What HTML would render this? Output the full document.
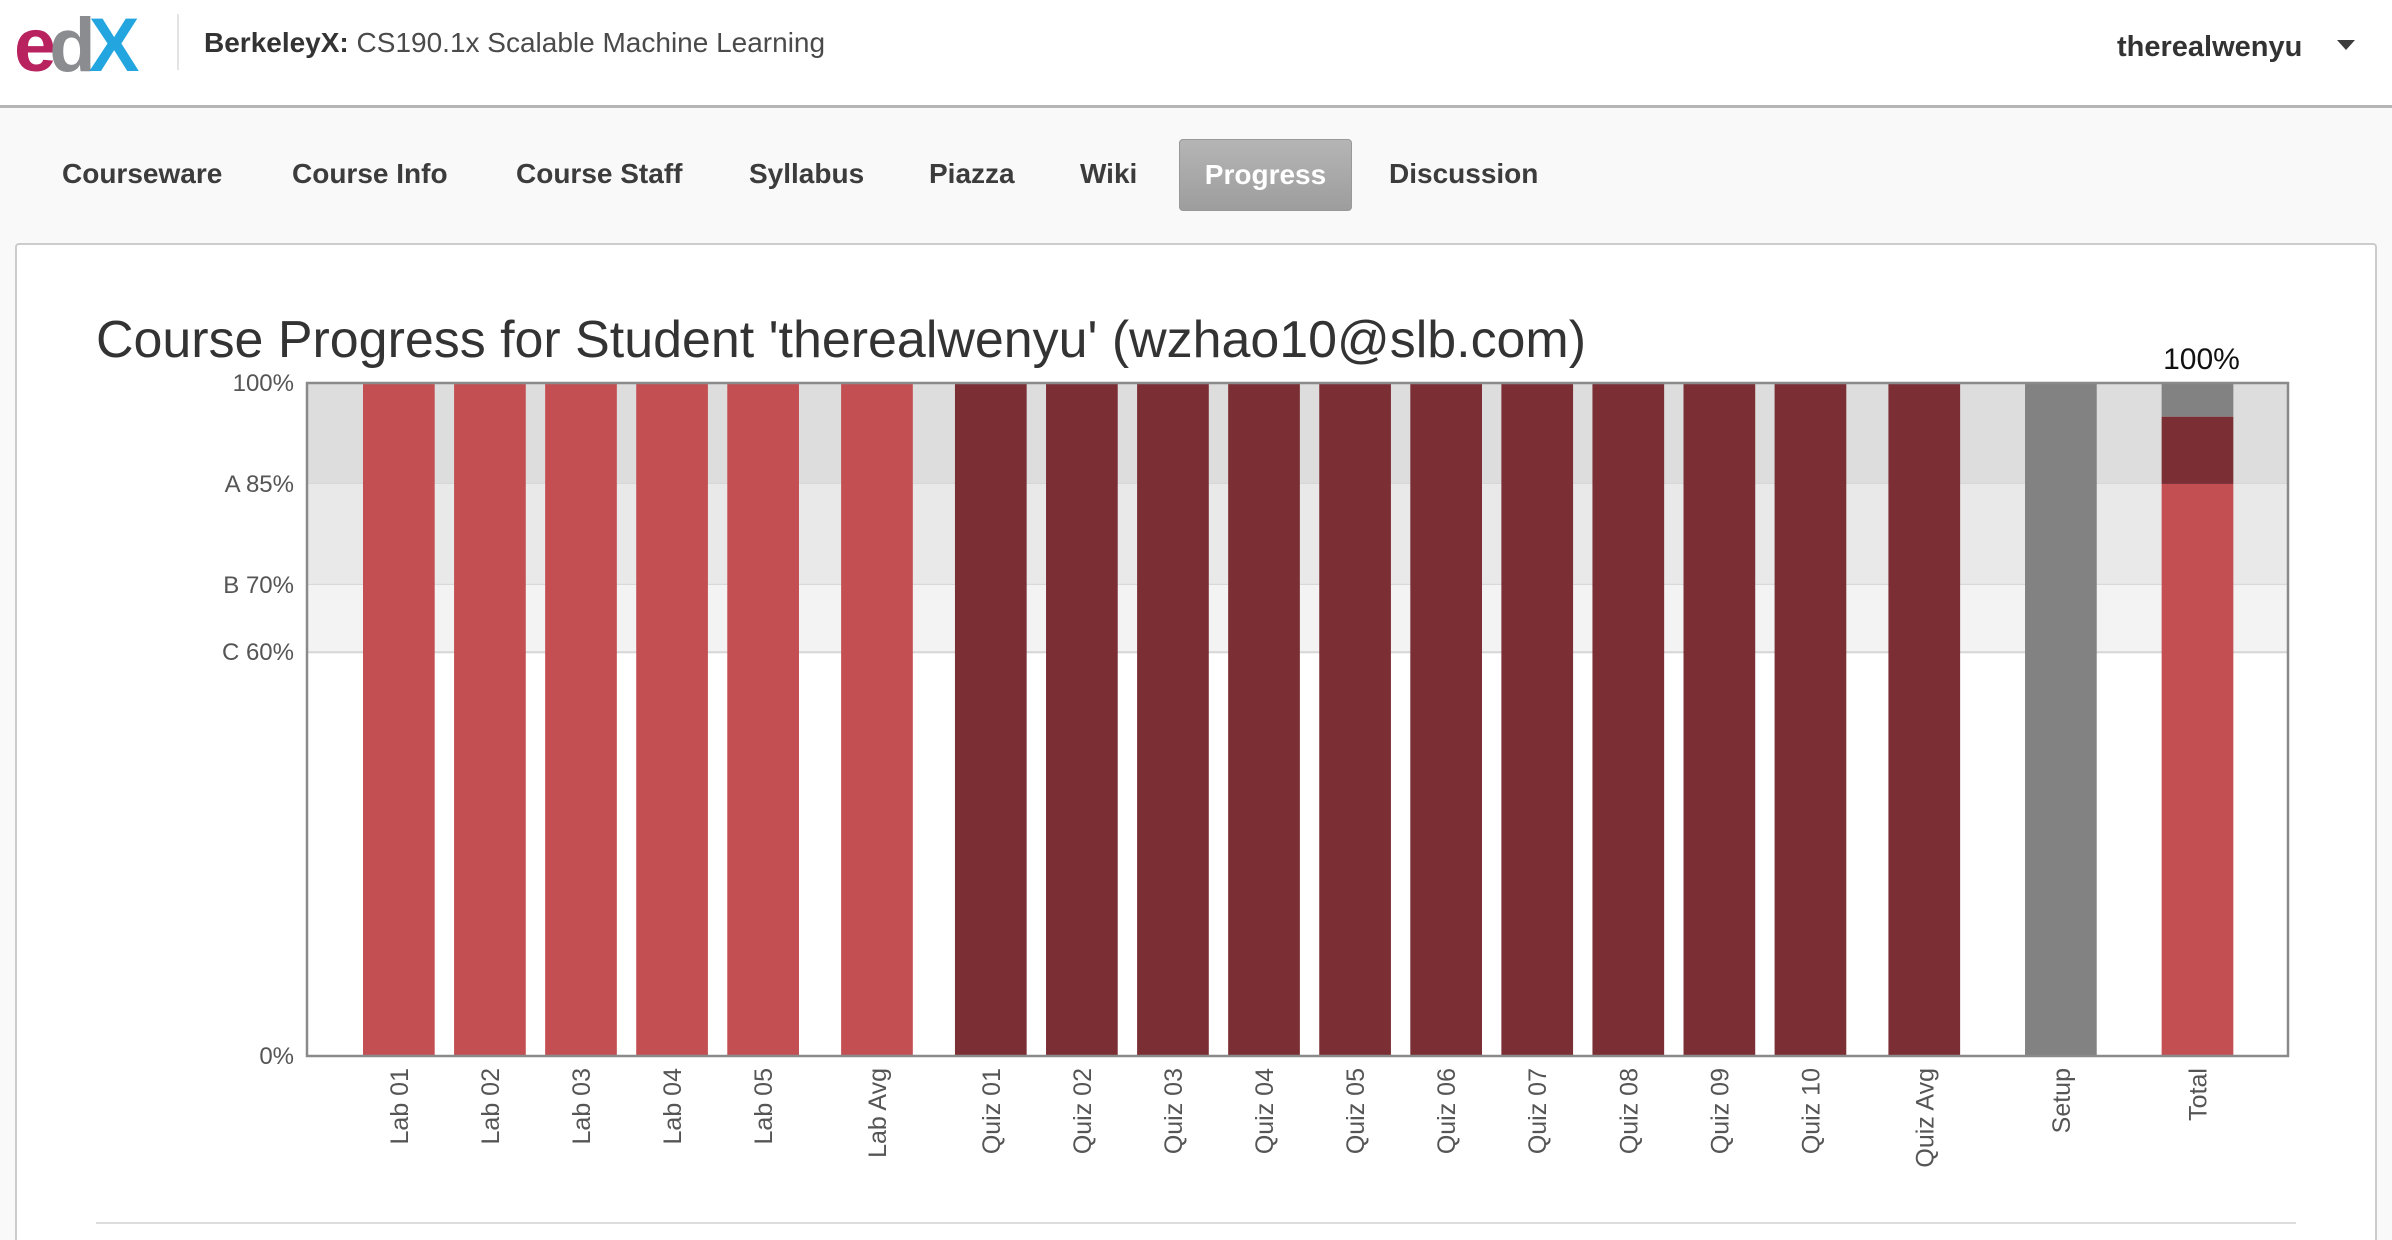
<!DOCTYPE html>
<html style="overflow:hidden;height:1240px"><head><meta charset="utf-8">
<style>
body{margin:0;width:2392px;height:1240px;position:relative;overflow:hidden;background:#fff;font-family:"Liberation Sans",sans-serif;}
.abs{position:absolute;}
.nav{position:absolute;top:158px;font-size:28px;font-weight:bold;color:#3c3c3c;white-space:nowrap;}
</style></head><body>
<div class="abs" style="left:0;top:0;width:2392px;height:108px;border-bottom:3px solid #b5b5b5;box-sizing:border-box;background:#fff"></div>
<div class="abs" style="left:14px;top:8px;font-size:76px;font-weight:bold;letter-spacing:-7px;line-height:76px">
<span style="color:#b8225f">e</span><span style="color:#8a8c8f">d</span><span style="color:#23a5e0">X</span></div>
<div class="abs" style="left:177px;top:14px;width:2px;height:56px;background:#e4e4e4"></div>
<div class="abs" style="left:204px;top:27px;font-size:28px;color:#4a4a4a;white-space:nowrap"><b style="color:#333">BerkeleyX:</b> CS190.1x Scalable Machine Learning</div>
<div class="abs" style="left:2117px;top:31px;font-size:29px;font-weight:bold;color:#333">therealwenyu</div>
<div class="abs" style="left:2337px;top:40px;width:0;height:0;border-left:9px solid transparent;border-right:9px solid transparent;border-top:10px solid #3c3c3c"></div>
<div class="abs" style="left:0;top:108px;width:2392px;height:1132px;background:#f9f9f9"></div>
<div class="nav" style="left:62px">Courseware</div>
<div class="nav" style="left:292px">Course Info</div>
<div class="nav" style="left:516px">Course Staff</div>
<div class="nav" style="left:749px">Syllabus</div>
<div class="nav" style="left:929px">Piazza</div>
<div class="nav" style="left:1080px">Wiki</div>
<div class="abs" style="left:1179px;top:139px;width:173px;height:72px;border-radius:4px;background:linear-gradient(#b5b5b5,#9d9d9d);border:1px solid #999;box-sizing:border-box;color:#fff;font-size:28px;font-weight:bold;text-align:center;line-height:70px">Progress</div>
<div class="nav" style="left:1389px">Discussion</div>
<div class="abs" style="left:15px;top:243px;width:2362px;height:997px;background:#fff;border:2px solid #ccc;border-bottom:none;border-radius:4px 4px 0 0;box-sizing:border-box"></div>
<svg class="abs" style="left:0;top:0" width="2392" height="1240" id="chart">
<text x="96" y="357" font-size="52" fill="#333" textLength="1490" lengthAdjust="spacingAndGlyphs">Course Progress for Student 'therealwenyu' (wzhao10@slb.com)</text>
<line x1="96" y1="1223" x2="2296" y2="1223" stroke="#ddd" stroke-width="2"/>
</svg>
<script>
const categories=["Lab 01","Lab 02","Lab 03","Lab 04","Lab 05","Lab Avg","Quiz 01","Quiz 02","Quiz 03","Quiz 04","Quiz 05","Quiz 06","Quiz 07","Quiz 08","Quiz 09","Quiz 10","Quiz Avg","Setup","Total"];
const slots=[0,1,2,3,4,5.25,6.5,7.5,8.5,9.5,10.5,11.5,12.5,13.5,14.5,15.5,16.75,18.25,19.75];
const kinds=["lab","lab","lab","lab","lab","lab","quiz","quiz","quiz","quiz","quiz","quiz","quiz","quiz","quiz","quiz","quiz","setup","total"];
const values=[100,100,100,100,100,100,100,100,100,100,100,100,100,100,100,100,100,100,100];
const totalLab=85, totalQuiz=10, totalSetup=5;
const gradeCutoffs=[85,70,60];
const gradeLabels=["A 85%","B 70%","C 60%"];
const axisTicks=[0,100];
const totalLabel="100%";
const svg=document.getElementById('chart');
const NS="http://www.w3.org/2000/svg";
const L=307,R=2288,T=383,B=1056,X0=363,SLOT=91.07,BW=71.7;
const y=v=>B-(v/100)*(B-T);
const x=s=>X0+s*SLOT;
const colors={lab:"#c44f53",quiz:"#7b2f34",setup:"#828282"};
function mk(tag,attrs){const e=document.createElementNS(NS,tag);for(const k in attrs)e.setAttribute(k,attrs[k]);svg.appendChild(e);return e;}
const bandFills=["#dddddd","#e9e9e9","#f3f3f3"];
const bandTops=[100].concat(gradeCutoffs);
for(let i=0;i<gradeCutoffs.length;i++){
 const r=mk('rect',{x:L,y:y(bandTops[i]),width:R-L,height:y(gradeCutoffs[i])-y(bandTops[i]),fill:bandFills[i]});
 
 
 const ln=mk('line',{x1:L,x2:R,y1:y(gradeCutoffs[i]),y2:y(gradeCutoffs[i]),stroke:"#d6d6d6","stroke-width":2});
 
 
 const t=mk('text',{x:294,y:y(gradeCutoffs[i])+8,"text-anchor":"end","font-size":24,fill:"#555"});
 t.textContent=gradeLabels[i];
 
 
}
axisTicks.forEach(v=>{
 const t=mk('text',{x:294,y:y(v)+8,"text-anchor":"end","font-size":24,fill:"#555"});
 t.textContent=v+"%";
 
 
});
categories.forEach((c,i)=>{
 const bx=x(slots[i]);
 if(kinds[i]==="total"){
  const segs=[[0,totalLab,colors.lab],[totalLab,totalLab+totalQuiz,colors.quiz],[totalLab+totalQuiz,totalLab+totalQuiz+totalSetup,colors.setup]];
  segs.forEach((s,j)=>{
   const r=mk('rect',{x:bx,y:y(s[1]),width:BW,height:y(s[0])-y(s[1]),fill:s[2]});
   
   
  });
  const t=mk('text',{x:bx+BW/2+4,y:y(totalLab+totalQuiz+totalSetup)-14,"text-anchor":"middle","font-size":30,fill:"#111"});
  t.textContent=totalLabel;
  
  
 } else {
  const r=mk('rect',{x:bx,y:y(values[i]),width:BW,height:y(0)-y(values[i]),fill:colors[kinds[i]]});
  
  
 }
 const cx=bx+BW/2+9, ty=1068;
 const t=mk('text',{x:cx,y:ty,transform:`rotate(-90 ${cx} ${ty})`,"text-anchor":"end","font-size":25,fill:"#555"});
 t.textContent=c;
 
 
});
const fr=mk('rect',{x:L,y:T,width:R-L,height:B-T,fill:"none",stroke:"#8a8a8a","stroke-width":2.5});


</script>
</body></html>
